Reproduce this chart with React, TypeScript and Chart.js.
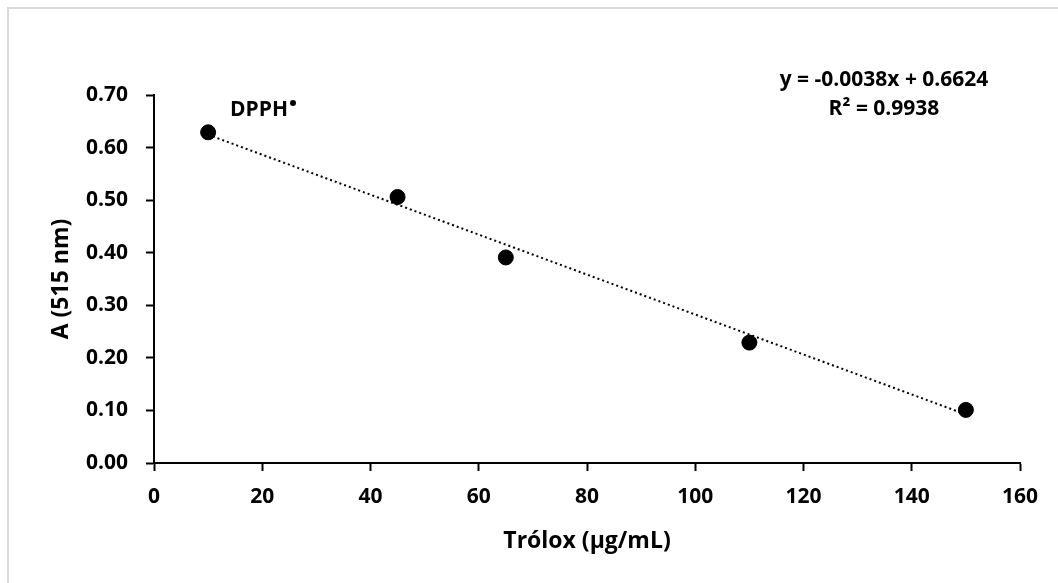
import React, { useEffect, useRef } from "react";
import { Chart, registerables } from "chart.js";

Chart.register(...registerables);

// Trolox concentrations (µg/mL) and measured absorbance at 515 nm
const concentrations = [10, 45, 65, 110, 150];
const absorbances = [0.629, 0.506, 0.391, 0.229, 0.101];

// Linear fit reported on the chart
const TREND_SLOPE = -0.0038;
const TREND_INTERCEPT = 0.6624;
const R_SQUARED = 0.9938;

const xTicks = [0, 20, 40, 60, 80, 100, 120, 140, 160];
const yTicks = [0, 0.1, 0.2, 0.3, 0.4, 0.5, 0.6, 0.7];

const FONT = "'Open Sans', Lato, sans-serif";

const trendStart = concentrations[0];
const trendEnd = concentrations[concentrations.length - 1];
const trendPoints = [trendStart, trendEnd].map((x) => ({
  x,
  y: TREND_SLOPE * x + TREND_INTERCEPT,
}));

const decorations = {
  id: "decorations",
  beforeDraw(chart: any) {
    const ctx = chart.ctx;
    ctx.save();
    ctx.strokeStyle = "#d9d9d9";
    ctx.lineWidth = 2;
    ctx.strokeRect(8, 8, chart.width + 20, chart.height + 20);
    ctx.restore();
  },
  afterDraw(chart: any) {
    const ctx = chart.ctx;
    const area = chart.chartArea;
    ctx.save();
    ctx.fillStyle = "#000";

    // axis titles
    ctx.font = `bold 23px ${FONT}`;
    ctx.textAlign = "center";
    ctx.textBaseline = "alphabetic";
    ctx.fillText("Trólox (µg/mL)", (area.left + area.right) / 2, 548);

    ctx.save();
    ctx.translate(68, (area.top + area.bottom) / 2);
    ctx.rotate(-Math.PI / 2);
    ctx.textBaseline = "alphabetic";
    ctx.fillText("A (515 nm)", 0, 0);
    ctx.restore();

    // series label
    ctx.font = `bold 21px ${FONT}`;
    ctx.textAlign = "left";
    ctx.textBaseline = "alphabetic";
    ctx.fillText("DPPH", 230, 116);
    const w = ctx.measureText("DPPH").width;
    ctx.beginPath();
    ctx.arc(230 + w + 5, 103, 3, 0, Math.PI * 2);
    ctx.fill();

    // regression equation
    ctx.font = `bold 21px ${FONT}`;
    ctx.textAlign = "center";
    const sign = TREND_INTERCEPT >= 0 ? "+" : "-";
    ctx.fillText(
      `y = ${TREND_SLOPE.toFixed(4)}x ${sign} ${Math.abs(TREND_INTERCEPT).toFixed(4)}`,
      884,
      86
    );
    ctx.fillText(`R² = ${R_SQUARED.toFixed(4)}`, 884, 115);
    ctx.restore();
  },
};

export default function App() {
  const canvasRef = useRef<HTMLCanvasElement | null>(null);

  useEffect(() => {
    const canvas = canvasRef.current;
    if (!canvas) return;
    const chart = new Chart(canvas, {
      type: "scatter",
      data: {
        datasets: [
          {
            type: "line",
            data: trendPoints,
            borderColor: "#000",
            borderWidth: 2,
            borderDash: [2, 3],
            pointRadius: 0,
            fill: false,
          },
          {
            data: concentrations.map((x, i) => ({ x, y: absorbances[i] })),
            backgroundColor: "#000",
            borderColor: "#000",
            pointRadius: 7.5,
            pointHoverRadius: 7.5,
          },
        ],
      },
      plugins: [decorations],
      options: {
        animation: false,
        responsive: false,
        devicePixelRatio: 1,
        layout: { padding: { left: 0, top: 95, right: 38, bottom: 0 } },
        plugins: {
          legend: { display: false },
          tooltip: { enabled: false },
        },
        scales: {
          x: {
            type: "linear",
            min: xTicks[0],
            max: xTicks[xTicks.length - 1],
            afterBuildTicks: (scale: any) => {
              scale.ticks = xTicks.map((v) => ({ value: v }));
            },
            afterFit: (scale: any) => {
              scale.height = 120;
            },
            grid: {
              drawOnChartArea: false,
              drawTicks: true,
              tickLength: 8,
              tickWidth: 2,
              tickColor: "#000",
            },
            border: { color: "#000", width: 2 },
            ticks: {
              color: "#000",
              padding: 13,
              font: { family: FONT, size: 21, weight: "bold" },
              callback: (v: any) => String(v),
            },
          },
          y: {
            type: "linear",
            min: yTicks[0],
            max: yTicks[yTicks.length - 1],
            afterBuildTicks: (scale: any) => {
              scale.ticks = yTicks.map((v) => ({ value: v }));
            },
            afterFit: (scale: any) => {
              scale.width = 154;
            },
            grid: {
              drawOnChartArea: false,
              drawTicks: true,
              tickLength: 8,
              tickWidth: 2,
              tickColor: "#000",
            },
            border: { color: "#000", width: 2 },
            ticks: {
              color: "#000",
              padding: 18,
              font: { family: FONT, size: 21, weight: "bold" },
              callback: (v: any) => Number(v).toFixed(2),
            },
          },
        },
      },
    });
    return () => chart.destroy();
  }, []);

  return (
    <div
      style={{
        position: "fixed",
        left: 0,
        top: 0,
        width: 1058,
        height: 583,
        background: "#fff",
      }}
    >
      <canvas ref={canvasRef} width={1058} height={583} />
    </div>
  );
}
